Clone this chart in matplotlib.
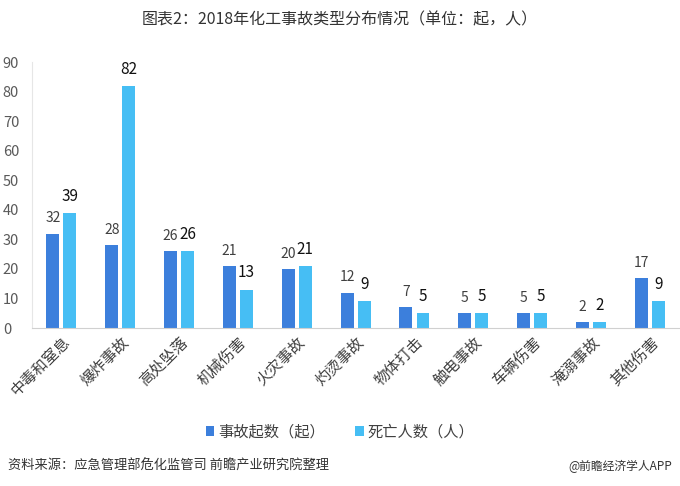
import numpy as np
import matplotlib.pyplot as plt

plt.rcParams['font.family'] = ['Noto Sans CJK SC', 'DejaVu Sans']

# 数据
categories = ['中毒和窒息', '爆炸事故', '高处坠落', '机械伤害', '火灾事故', '灼烫事故',
              '物体打击', '触电事故', '车辆伤害', '淹溺事故', '其他伤害']
accidents = [32, 28, 26, 21, 20, 12, 7, 5, 5, 2, 17]
deaths = [39, 82, 26, 13, 21, 9, 5, 5, 5, 2, 9]
yticks = [0, 10, 20, 30, 40, 50, 60, 70, 80, 90]

c_dark = '#3C7FDC'
c_light = '#46BEF4'

fig = plt.figure(figsize=(6.8, 4.86), dpi=100)
ax = fig.add_axes([0.047, 0.325, 0.952, 0.547])

x = np.arange(len(categories))
w = 0.22
off = 0.145
b1 = ax.bar(x - off, accidents, w, color=c_dark, label='事故起数（起）')
b2 = ax.bar(x + off, deaths, w, color=c_light, label='死亡人数（人）')

# 数据标签
for xi, v in zip(x, accidents):
    ax.annotate(str(v), (xi - off, v), xytext=(0, 6), textcoords='offset points',
                ha='center', va='bottom', fontsize=10, color='#404040')
for xi, v in zip(x, deaths):
    ax.annotate(str(v), (xi + off, v), xytext=(0, 6), textcoords='offset points',
                ha='center', va='bottom', fontsize=11, color='#111111')

ax.set_xlim(-0.5, len(categories) - 0.5)
ax.set_ylim(0, 90)
ax.set_yticks(yticks)
ax.set_xticks(x)
ax.set_xticklabels(categories, rotation=45, ha='right', va='top', rotation_mode='anchor',
                   fontsize=11, color='#404040')
ax.tick_params(axis='y', length=0, labelsize=10.5, labelcolor='#595959', pad=21)
ax.tick_params(axis='x', length=0, pad=4)
for s in ['top', 'right']:
    ax.spines[s].set_visible(False)
ax.spines['left'].set_color('#e6e6e6')
ax.spines['bottom'].set_color('#d0d0d0')
for lab in ax.get_yticklabels():
    lab.set_horizontalalignment('left')

fig.legend(handles=[b1, b2], loc='center', bbox_to_anchor=(0.5, 1 - 432 / 486), ncol=2,
           frameon=False, fontsize=11, handlelength=0.55, handleheight=0.55,
           handletextpad=0.25, columnspacing=2.0, labelcolor='#404040')

fig.text(0.5, 1 - 20 / 486, '图表2：2018年化工事故类型分布情况（单位：起，人）', ha='center', va='center',
         fontsize=11.5, color='#333333')
fig.text(8 / 680, 1 - 466 / 486, '资料来源：应急管理部危化监管司 前瞻产业研究院整理', ha='left', va='center',
         fontsize=9.5, color='#333333', style='italic')
fig.text(672 / 680, 1 - 466 / 486, '@前瞻经济学人APP', ha='right', va='center',
         fontsize=8.5, color='#333333')

fig.savefig('out.png', dpi=100)
